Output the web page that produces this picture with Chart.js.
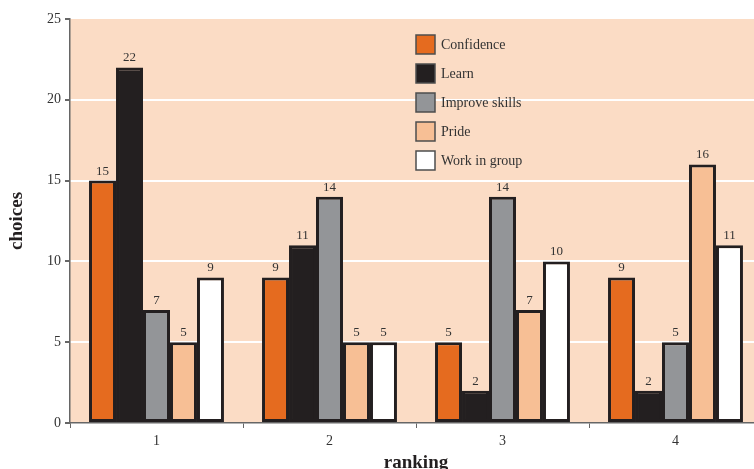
<!DOCTYPE html>
<html>
<head>
<meta charset="utf-8">
<script src="https://cdn.jsdelivr.net/npm/chart.js@4"></script>
<style>
  html, body { margin: 0; padding: 0; background: #fff; overflow: hidden; }
  #wrap { width: 754px; height: 469px; overflow: hidden; }
  #box { width: 766px; height: 474px; }
</style>
</head>
<body>
<div id="wrap"><div id="box"><canvas id="myChart"></canvas></div></div>
<script>
var rankings = ['1', '2', '3', '4'];
var seriesNames = ['Confidence', 'Learn', 'Improve skills', 'Pride', 'Work in group'];
var confidence = [15, 9, 5, 9];
var learn = [22, 11, 2, 2];
var improveSkills = [7, 14, 14, 5];
var pride = [5, 5, 7, 16];
var workInGroup = [9, 5, 10, 11];
var yTicks = [0, 5, 10, 15, 20, 25];

var colours = ['#e56b1f', '#231f20', '#939598', '#f7bf95', '#ffffff'];
var allValues = [confidence, learn, improveSkills, pride, workInGroup];
var serif = "'Liberation Serif', 'DejaVu Serif', serif";

var datasets = [];
for (var i = 0; i < seriesNames.length; i++) {
  datasets.push({
    label: seriesNames[i],
    data: allValues[i],
    backgroundColor: colours[i],
    borderColor: '#231f20',
    borderWidth: 3,
    borderSkipped: false,
    categoryPercentage: 0.78,
    barPercentage: 1.0
  });
}

// peach plot background
var plotBackground = {
  id: 'plotBackground',
  beforeDraw: function (chart) {
    var a = chart.chartArea, ctx = chart.ctx;
    ctx.save();
    ctx.fillStyle = '#fbdcc5';
    ctx.fillRect(a.left, a.top, a.right - a.left, a.bottom - a.top);
    ctx.restore();
  }
};

// numbers on top of the bars
var barValues = {
  id: 'barValues',
  afterDatasetsDraw: function (chart) {
    var ctx = chart.ctx;
    ctx.save();
    ctx.font = '13px ' + serif;
    ctx.fillStyle = '#333';
    ctx.textAlign = 'center';
    ctx.textBaseline = 'bottom';
    chart.data.datasets.forEach(function (ds, i) {
      chart.getDatasetMeta(i).data.forEach(function (bar, j) {
        ctx.fillText(ds.data[j], bar.x, bar.y - 3);
      });
    });
    ctx.restore();
  }
};

// legend boxes inside the plot
var insideLegend = {
  id: 'insideLegend',
  afterDraw: function (chart) {
    var ctx = chart.ctx;
    var x = 416, y = 35, step = 29;
    ctx.save();
    ctx.font = '14px ' + serif;
    ctx.textBaseline = 'middle';
    chart.data.datasets.forEach(function (ds, i) {
      var top = y + i * step;
      ctx.fillStyle = ds.backgroundColor;
      ctx.fillRect(x, top, 19, 19);
      ctx.strokeStyle = '#4d4d4d';
      ctx.lineWidth = 1.5;
      ctx.strokeRect(x, top, 19, 19);
      ctx.fillStyle = '#333';
      ctx.fillText(ds.label, x + 25, top + 10);
    });
    ctx.restore();
  }
};

var ctx = document.getElementById('myChart').getContext('2d');
var chart = new Chart(ctx, {
  type: 'bar',
  data: { labels: rankings, datasets: datasets },
  plugins: [plotBackground, barValues, insideLegend],
  options: {
    responsive: true,
    maintainAspectRatio: false,
    animation: false,
    layout: { padding: { top: 19, right: 4, left: 0, bottom: 0 } },
    plugins: {
      legend: { display: false },
      tooltip: { enabled: false }
    },
    scales: {
      x: {
        grid: {
          drawOnChartArea: false,
          tickColor: '#666',
          tickLength: 5,
          offset: true
        },
        border: { color: '#666', width: 1.5 },
        ticks: { color: '#333', font: { family: serif, size: 14 }, padding: 5 },
        title: {
          display: true,
          text: 'ranking',
          color: '#231f20',
          font: { family: serif, size: 19, weight: 'bold' },
          padding: { top: 9, bottom: 0 }
        },
        afterFit: function (scale) { scale.height = 51; }
      },
      y: {
        min: 0,
        max: 25,
        afterBuildTicks: function (scale) {
          scale.ticks = yTicks.map(function (v) { return { value: v }; });
        },
        grid: {
          color: function (c) {
            var v = c.tick ? c.tick.value : 0;
            return (v === 0 || v === 25) ? 'rgba(0,0,0,0)' : '#ffffff';
          },
          lineWidth: 2,
          tickColor: '#666',
          tickLength: 5
        },
        border: { color: '#666', width: 1.5 },
        ticks: { color: '#333', font: { family: serif, size: 14 }, padding: 4 },
        title: {
          display: true,
          text: 'choices',
          color: '#231f20',
          font: { family: serif, size: 19, weight: 'bold' },
          padding: { top: 6, bottom: 6 }
        },
        afterFit: function (scale) { scale.width = 70; }
      }
    }
  }
});
</script>
</body>
</html>
